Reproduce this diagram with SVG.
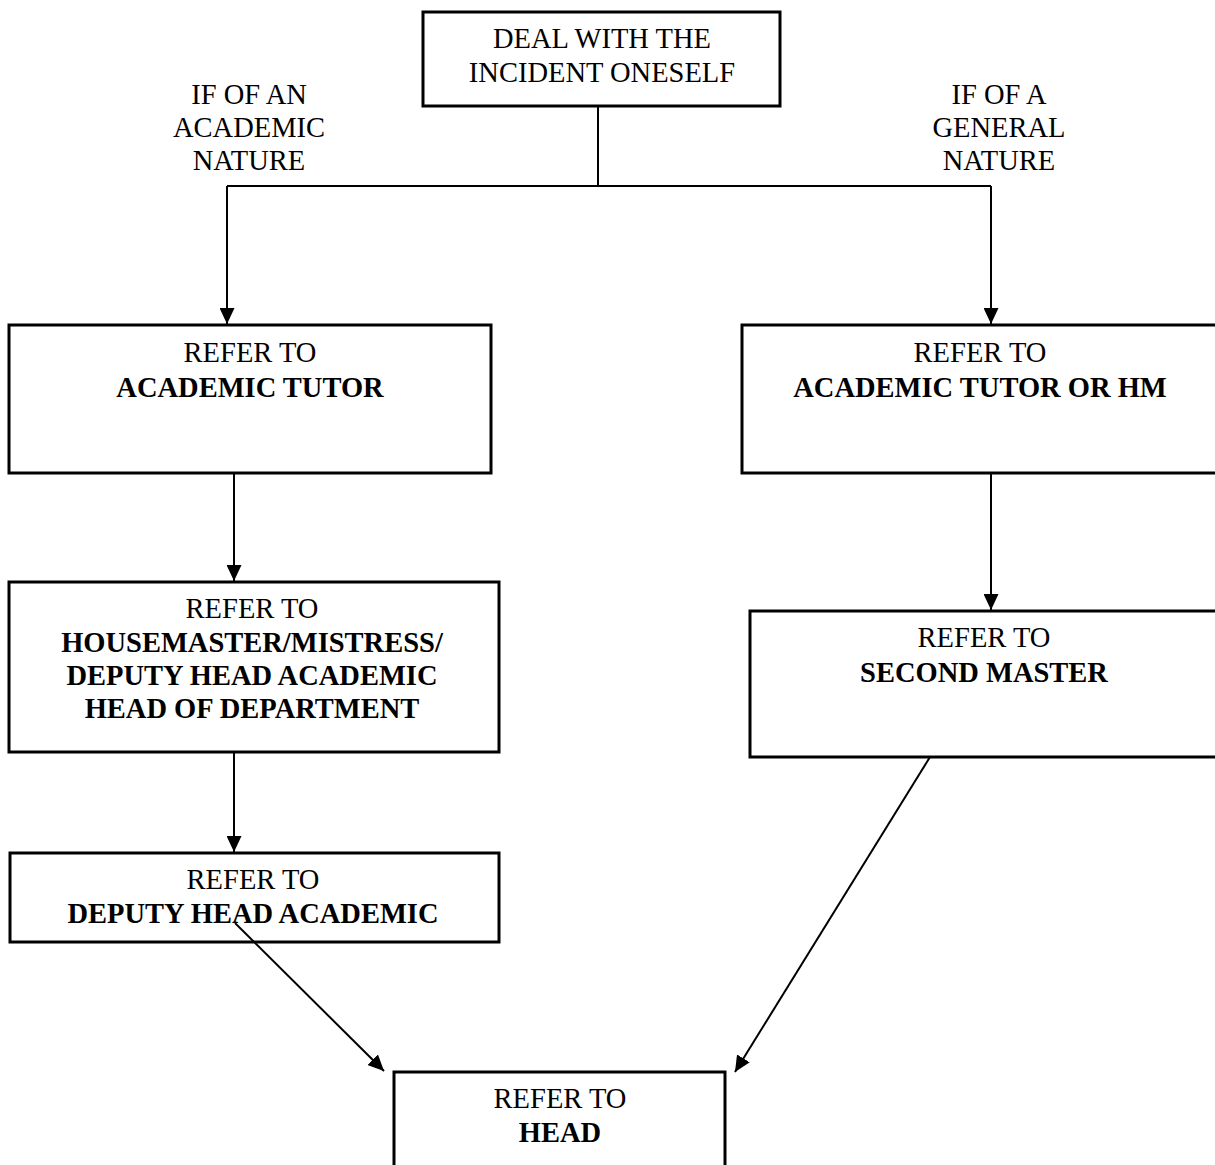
<svg xmlns="http://www.w3.org/2000/svg" width="1215" height="1165" viewBox="0 0 1215 1165">
  <style>
    .box { fill: #ffffff; stroke: #000000; stroke-width: 3; }
    .t { font-family: "Liberation Serif", "Times New Roman", serif; font-size: 28.5px; fill: #000000; text-anchor: middle; }
    .b { font-weight: bold; }
    .c { fill: none; stroke: #000000; stroke-width: 2; }
  </style>
  <defs>
    <marker id="arrow" viewBox="0 0 16 15" refX="16" refY="7.5" markerWidth="16" markerHeight="15" markerUnits="userSpaceOnUse" orient="auto">
      <path d="M0,0 L16,7.5 L0,15 z" fill="#000000"/>
    </marker>
  </defs>
  <rect width="1215" height="1165" fill="#ffffff"/>

  <g id="label-academic">
    <text class="t" x="249" y="104">IF OF AN</text>
    <text class="t" x="249" y="137">ACADEMIC</text>
    <text class="t" x="249" y="170">NATURE</text>
  </g>
  <g id="label-general">
    <text class="t" x="999" y="104">IF OF A</text>
    <text class="t" x="999" y="137">GENERAL</text>
    <text class="t" x="999" y="170">NATURE</text>
  </g>

  <g id="node-start">
    <rect class="box" x="423" y="12" width="357" height="94"/>
    <text class="t" x="602" y="48">DEAL WITH THE</text>
    <text class="t" x="602" y="82">INCIDENT ONESELF</text>
  </g>

  <g id="node-academic-tutor">
    <rect class="box" x="9" y="325" width="482" height="148"/>
    <text class="t" x="250" y="362">REFER TO</text>
    <text class="t b" x="250" y="397">ACADEMIC TUTOR</text>
  </g>

  <g id="node-academic-tutor-or-hm">
    <rect class="box" x="742" y="325" width="490" height="148"/>
    <text class="t" x="980" y="362">REFER TO</text>
    <text class="t b" x="980" y="397">ACADEMIC TUTOR OR HM</text>
  </g>

  <g id="node-housemaster">
    <rect class="box" x="9" y="582" width="490" height="170"/>
    <text class="t" x="252" y="618">REFER TO</text>
    <text class="t b" x="252" y="652">HOUSEMASTER/MISTRESS/</text>
    <text class="t b" x="252" y="685">DEPUTY HEAD ACADEMIC</text>
    <text class="t b" x="252" y="718">HEAD OF DEPARTMENT</text>
  </g>

  <g id="node-second-master">
    <rect class="box" x="750" y="611" width="482" height="146"/>
    <text class="t" x="984" y="647">REFER TO</text>
    <text class="t b" x="984" y="682">SECOND MASTER</text>
  </g>

  <g id="node-deputy-head">
    <rect class="box" x="10" y="853" width="489" height="89"/>
    <text class="t" x="253" y="889">REFER TO</text>
    <text class="t b" x="253" y="923">DEPUTY HEAD ACADEMIC</text>
  </g>

  <g id="node-head">
    <rect class="box" x="394" y="1072" width="331" height="120"/>
    <text class="t" x="560" y="1108">REFER TO</text>
    <text class="t b" x="560" y="1142">HEAD</text>
  </g>

  <g id="connectors">
    <line class="c" x1="598" y1="107" x2="598" y2="186"/>
    <line class="c" x1="227" y1="186" x2="991" y2="186"/>
    <line class="c" x1="227" y1="186" x2="227" y2="324" marker-end="url(#arrow)"/>
    <line class="c" x1="991" y1="186" x2="991" y2="324" marker-end="url(#arrow)"/>
    <line class="c" x1="234" y1="474" x2="234" y2="581" marker-end="url(#arrow)"/>
    <line class="c" x1="234" y1="753" x2="234" y2="852" marker-end="url(#arrow)"/>
    <line class="c" x1="991" y1="474" x2="991" y2="610" marker-end="url(#arrow)"/>
    <line class="c" x1="235" y1="923" x2="384" y2="1071" marker-end="url(#arrow)"/>
    <line class="c" x1="930" y1="757" x2="735" y2="1072" marker-end="url(#arrow)"/>
  </g>
</svg>
